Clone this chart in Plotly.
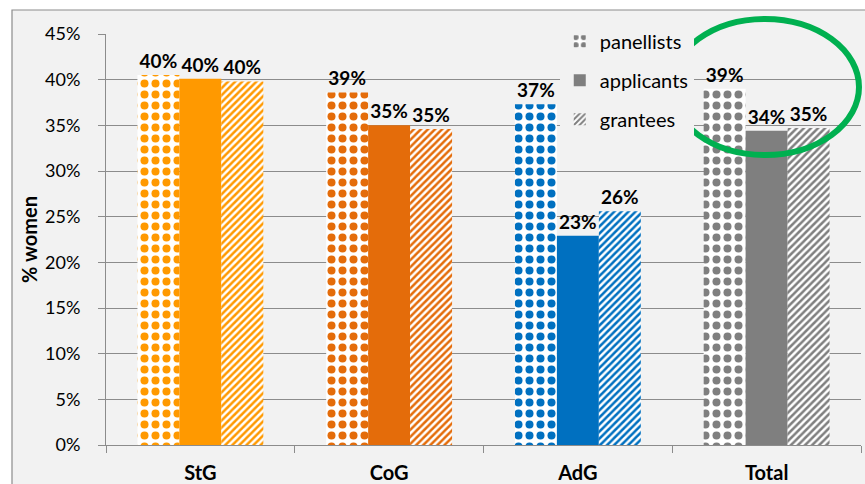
import plotly.graph_objects as go

# Share of women by grant type and stage
categories = ["StG", "CoG", "AdG", "Total"]
panellists = [0.405, 0.386, 0.373, 0.390]
applicants = [0.401, 0.350, 0.229, 0.344]
grantees = [0.398, 0.346, 0.256, 0.347]
series_names = ["panellists", "applicants", "grantees"]
category_colors = ["#FF9900", "#E46C0A", "#0070C0", "#7F7F7F"]
legend_color = "#7F7F7F"

FONT = "Lato"
GRID = "#8C8C8C"
BG = "#F2F2F2"

W, H = 865, 484
L, R, T, B = 106, 4, 34, 39


def bar_marker(kind, color):
    """Dots for panellists, solid for applicants, stripes for grantees."""
    if kind == "applicants":
        return dict(color=color, line=dict(width=0))
    if kind == "panellists":
        pat = dict(shape=".", fgcolor=color, bgcolor="white", size=11,
                   solidity=0.42, fillmode="replace", fgopacity=1)
    else:
        pat = dict(shape="/", fgcolor=color, bgcolor="white", size=5,
                   solidity=0.5, fillmode="replace", fgopacity=1)
    return dict(color="white", line=dict(width=0), pattern=pat)


fig = go.Figure()

# One trace per category and series; offsetgroup keeps each series in its slot
for name, vals in zip(series_names, [panellists, applicants, grantees]):
    for cat, val, col in zip(categories, vals, category_colors):
        fig.add_trace(go.Bar(
            x=[cat], y=[val], name=name, showlegend=False,
            offsetgroup=name, legendgroup=name,
            marker=bar_marker(name, col),
            text=[f"{val:.0%}"], texttemplate="%{text}",
            textposition="outside",
            textfont=dict(family=FONT, size=19, color="black", weight="bold"),
            cliponaxis=False,
        ))

# Legend entries in neutral grey, on an invisible overlaid axis
for name in series_names:
    fig.add_trace(go.Bar(
        x=[categories[0]], y=[None], name=name, xaxis="x2",
        legendgroup=name, marker=bar_marker(name, legend_color),
    ))

fig.update_layout(
    width=W, height=H,
    margin=dict(l=L, r=R, t=T, b=B),
    paper_bgcolor="white",
    plot_bgcolor="rgba(0,0,0,0)",
    barmode="group",
    bargap=0.333,
    bargroupgap=0,
    font=dict(family=FONT, size=16, color="black"),
    showlegend=True,
    legend=dict(
        x=0.601, y=1.03, xanchor="left", yanchor="top",
        bgcolor=BG, font=dict(family=FONT, size=20, color="black"),
        tracegroupgap=10, itemwidth=30,
    ),
    xaxis=dict(
        type="category", categoryorder="array", categoryarray=categories,
        showline=True, linecolor=GRID, linewidth=1,
        ticks="outside", tickson="boundaries", ticklen=7, tickcolor=GRID,
        showgrid=False, zeroline=False, automargin=False,
        tickfont=dict(family=FONT, size=20, color="black", weight="bold"),
        ticklabelstandoff=10,
    ),
    xaxis2=dict(overlaying="x", visible=False, type="category",
                categoryarray=categories),
    yaxis=dict(
        range=[0, 0.45], dtick=0.05, tickformat=".0%",
        showline=True, linecolor=GRID, linewidth=1,
        ticks="outside", ticklen=7, tickcolor=GRID,
        showgrid=True, gridcolor=GRID, gridwidth=1, zeroline=False,
        automargin=False,
        tickfont=dict(family=FONT, size=18, color="black"),
        ticklabelstandoff=14,
        title=dict(text="% women", standoff=2,
                   font=dict(family=FONT, size=20, color="black", weight="bold")),
    ),
)

pw = W - L - R
ph = H - T - B


def px_x(v):
    return (v - L) / pw


def px_y(v):
    return (H - B - v) / ph


# Chart frame with light grey fill
fig.add_shape(type="rect", xref="paper", yref="paper", layer="below",
              x0=px_x(12), x1=px_x(W + 20), y0=px_y(H + 20), y1=px_y(10),
              fillcolor=BG, line=dict(color="#8C8C8C", width=1.2))

# Highlight ring around the totals
fig.add_shape(type="circle", xref="paper", yref="paper", layer="above",
              x0=px_x(671), x1=px_x(859), y0=px_y(155), y1=px_y(19),
              line=dict(color="#00B050", width=6), fillcolor="rgba(0,0,0,0)")

fig.write_html("out.html")
